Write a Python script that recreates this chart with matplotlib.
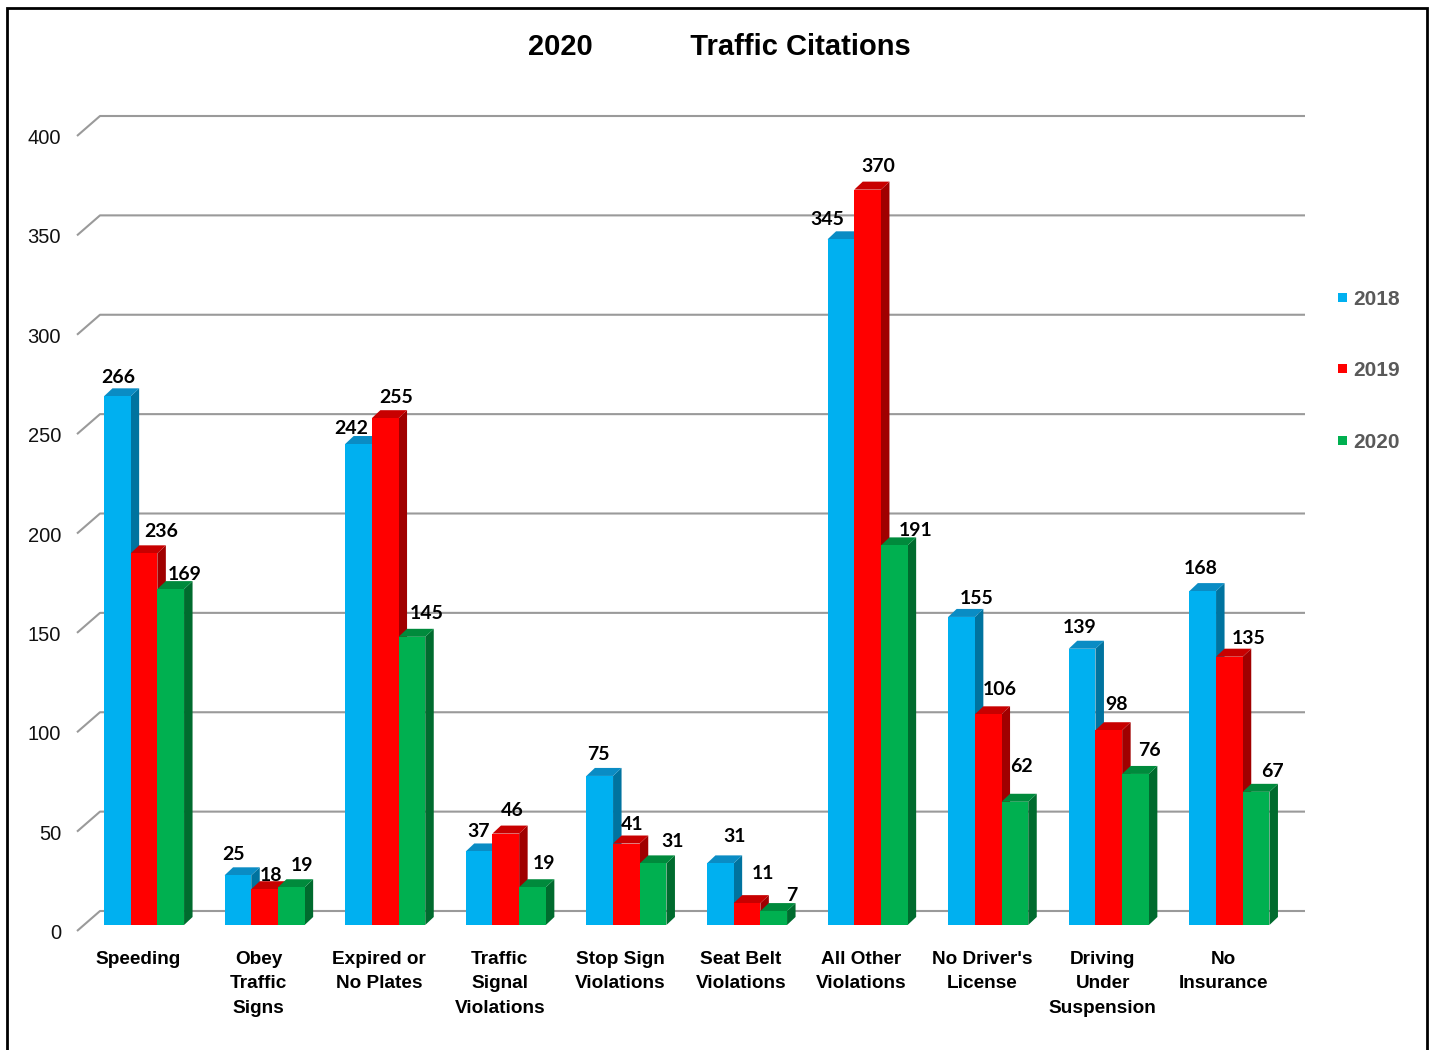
import matplotlib
matplotlib.use("Agg")
import matplotlib.pyplot as plt
import matplotlib.patches as mpatches
from matplotlib import font_manager

categories = ["Speeding", "Obey\nTraffic\nSigns", "Expired or\nNo Plates",
              "Traffic\nSignal\nViolations", "Stop Sign\nViolations",
              "Seat Belt\nViolations", "All Other\nViolations",
              "No Driver's\nLicense", "Driving\nUnder\nSuspension", "No\nInsurance"]
years = ["2018", "2019", "2020"]
v2018 = [266, 25, 242, 37, 75, 31, 345, 155, 139, 168]
v2019 = [236, 18, 255, 46, 41, 11, 370, 106, 98, 135]
v2020 = [169, 19, 145, 19, 31, 7, 191, 62, 76, 67]
# in the original the Speeding 2019 bar is drawn shorter than its label says
h2019 = [187, 18, 255, 46, 41, 11, 370, 106, 98, 135]
yticks = [0, 50, 100, 150, 200, 250, 300, 350, 400]

# hand-placed data labels in the original: pixel nudges from the bar top
nudge_x = [[1, 17, 14], [-4, 6, 11], [-7, 11, 15], [-1, 6, 12], [-1, 6, 19],
           [14, 16, 18], [-14, 11, 21], [15, 12, 7], [-2, 8, 14], [-2, 19, 16]]
nudge_y = [[20, 23, 16], [22, 15, 23], [17, 22, 25], [21, 25, 25], [23, 21, 23],
           [28, 31, 17], [21, 25, 16], [20, 26, 37], [23, 27, 25], [24, 20, 22]]

front = ["#00B0F0", "#FF0000", "#00B050"]
top = ["#0A8CC4", "#C80000", "#008A3C"]
side = ["#00739F", "#A00000", "#006B2E"]

W, H = 1433, 1050
X0, STEP = 144, 120.6      # pixel x of first group, pixels per category
Y0, K = 925, 1.9875        # pixel y of zero, pixels per unit
BW = 26.7 / STEP           # bar width
DX, DY = 8.5 / STEP, 8 / K  # bar depth


def has_font(name):
    try:
        font_manager.findfont(font_manager.FontProperties(family=name),
                              fallback_to_default=False)
        return True
    except ValueError:
        return False


sans = "Liberation Sans"
label_font = "Lato" if has_font("Lato") else "DejaVu Sans"
if has_font("Liberation Sans Narrow"):
    title_kw = dict(family="Liberation Sans Narrow", size=24)
else:
    title_kw = dict(family=sans, size=21)

fig = plt.figure(figsize=(W / 100, H / 100), dpi=100)
ax = fig.add_axes([0, 0, 1, 1])
ax.set_xlim(-X0 / STEP, (W - X0) / STEP)
ax.set_ylim(-(H - Y0) / K, Y0 / K)
ax.axis("off")


def px(x):
    return (x - X0) / STEP


def py(y):
    return (Y0 - y) / K


# back wall gridlines with the left diagonal
grid_c = "#9A9A9A"
for t in yticks:
    yb = t + 14 / K
    yf = t - 6 / K
    ax.plot([px(77), px(100), px(1305)], [yf, yb, yb], color=grid_c, lw=1.5,
            zorder=1, solid_capstyle="butt")
    ax.text(px(61), py(931 + 8) + t, str(t), ha="right", va="baseline",
            family=sans, fontsize=14.5, color="#111111")

series = [v2018, v2019, v2020]
heights = [v2018, h2019, v2020]
for i in range(len(categories)):
    for j in range(3):
        h = heights[j][i]
        x0 = i + (j - 1.5) * BW
        x1 = x0 + BW
        z = 2 + i * 3 + j
        ax.add_patch(mpatches.Polygon([(x1, 0), (x1 + DX, DY), (x1 + DX, h + DY), (x1, h)],
                                      closed=True, fc=side[j], ec="none", zorder=z))
        ax.add_patch(mpatches.Polygon([(x0, h), (x1, h), (x1 + DX, h + DY), (x0 + DX, h + DY)],
                                      closed=True, fc=top[j], ec="none", zorder=z))
        ax.add_patch(mpatches.Rectangle((x0, 0), BW, h, fc=front[j], ec="none", zorder=z))
        ax.annotate(str(series[j][i]), xy=(x0 + BW / 2, h),
                    xytext=(nudge_x[i][j], nudge_y[i][j]), textcoords="offset pixels",
                    ha="center", va="center_baseline", family=label_font,
                    fontweight="bold", fontsize=14, color="black", zorder=50)

    for k, line in enumerate(categories[i].split("\n")):
        ax.text(i - 6 / STEP, py(964 + 24.5 * k), line, ha="center", va="baseline",
                family=sans, fontweight="bold", fontsize=13.7, color="black")

# title
fig.text(719 / W, 1 - 55 / H, "2020            Traffic Citations", ha="center",
         va="baseline", fontweight="bold", color="black", **title_kw)

# legend
for k, yr in enumerate(years):
    yc = 297 + 71.5 * k
    fig.patches.append(mpatches.Rectangle((1338 / W, 1 - (yc + 4.5) / H), 9 / W, 9 / H,
                                          transform=fig.transFigure, fc=front[k], ec="none"))
    fig.text(1353 / W, 1 - (yc + 8) / H, yr, ha="left", va="baseline", family=sans,
             fontweight="bold", fontsize=15, color="#595959")

# outer frame
fig.patches.append(mpatches.Rectangle((7 / W, -0.01), 1420 / W, 1 - 8 / H + 0.01,
                                      transform=fig.transFigure, fill=False,
                                      ec="black", lw=2))

fig.savefig("out.png", dpi=100)
